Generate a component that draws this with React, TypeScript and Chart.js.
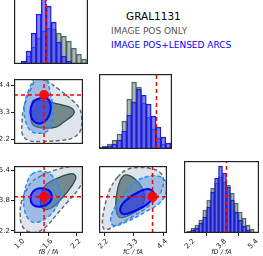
import React, { useEffect, useRef } from "react";
import { Chart, registerables } from "chart.js";

Chart.register(...registerables);

const FONT = "'DejaVu Sans', sans-serif";
Chart.defaults.font.family = FONT;

// ---------------- data ----------------
const TITLE = "GRAL1131";
const LEGEND_POS = "IMAGE POS ONLY";
const LEGEND_ARCS = "IMAGE POS+LENSED ARCS";
const AXIS_LABELS = ["fB / fA", "fC / fA", "fD / fA"];

const TRUTHS = [1.5, 4.0, 4.0];

const TICKS_1 = [1.0, 1.6, 2.2];
const TICKS_2 = [2.2, 3.3, 4.4];
const TICKS_3 = [2.2, 3.8, 5.4];

// 1D marginals (bin centres, heights)
const BINS_1 = [0.95, 1.05, 1.15, 1.25, 1.35, 1.45, 1.55, 1.65, 1.75, 1.85, 1.95, 2.05, 2.15, 2.25];
const HIST_1_POS = [0, 2, 8, 17, 26, 33, 36, 35, 31, 28, 23, 16, 10, 5];
const HIST_1_ARCS = [0, 3, 13, 31, 50, 70, 58, 42, 22, 8, 3, 1, 0, 0];

const BINS_2 = [2.03, 2.2, 2.37, 2.54, 2.71, 2.88, 3.05, 3.22, 3.39, 3.56, 3.73, 3.9, 4.07, 4.24, 4.41];
const HIST_2_POS = [2, 3, 5, 9, 15, 28, 50, 67, 62, 46, 32, 20, 11, 5, 2];
const HIST_2_ARCS = [1, 2, 3, 5, 9, 18, 34, 47, 60, 54, 45, 33, 22, 12, 6];

const BINS_3 = [2.1, 2.3, 2.5, 2.7, 2.9, 3.1, 3.3, 3.5, 3.7, 3.9, 4.1, 4.3, 4.5, 4.7, 4.9, 5.1, 5.3, 5.5];
const HIST_3_POS = [2, 5, 8, 13, 23, 33, 45, 50, 56, 51, 48, 40, 30, 21, 15, 8, 4, 1];
const HIST_3_ARCS = [1, 3, 5, 10, 16, 26, 41, 55, 67, 60, 46, 33, 21, 13, 7, 3, 1, 0];

type XY = [number, number];

// 2D credible contours (param1 vs param2)
const C12_POS_2S: XY[] = [[1.405, 4.672], [1.569, 4.553], [1.83, 4.203], [2.094, 3.798], [2.258, 3.448], [2.303, 3.039], [2.277, 2.574], [2.126, 2.28], [1.83, 2.165], [1.437, 2.13], [1.175, 2.165], [1.043, 2.399], [1.031, 2.864], [1.057, 3.389], [1.141, 3.913], [1.24, 4.322], [1.319, 4.612]];
const C12_POS_1S: XY[] = [[1.273, 3.798], [1.437, 3.763], [1.701, 3.679], [1.962, 3.563], [2.106, 3.448], [2.145, 3.294], [2.094, 3.154], [1.929, 2.924], [1.766, 2.714], [1.569, 2.665], [1.338, 2.714], [1.24, 2.864], [1.22, 3.273], [1.24, 3.623]];
const C12_ARC_2S: XY[] = [[1.569, 4.612], [1.634, 4.088], [1.687, 3.504], [1.667, 2.924], [1.569, 2.549], [1.372, 2.455], [1.208, 2.574], [1.11, 2.924], [1.077, 3.389], [1.11, 3.854], [1.189, 4.263], [1.273, 4.612], [1.332, 4.857], [1.51, 4.857]];
const C12_ARC_1S: XY[] = [[1.569, 3.854], [1.634, 3.679], [1.634, 3.329], [1.569, 3.039], [1.437, 2.864], [1.293, 2.924], [1.22, 3.154], [1.22, 3.504], [1.293, 3.763], [1.437, 3.878]];

// param1 vs param3
const C13_POS_2S: XY[] = [[1.437, 5.11], [1.766, 5.44], [2.094, 5.62], [2.3, 5.7], [2.36, 5.1], [2.224, 4.371], [1.996, 3.716], [1.766, 3.06], [1.569, 2.484], [1.372, 2.154], [1.175, 2.154], [1.031, 2.484], [0.992, 3.06], [1.017, 3.716], [1.11, 4.292], [1.24, 4.785]];
const C13_POS_1S: XY[] = [[1.569, 4.701], [1.83, 5.031], [2.094, 5.228], [2.179, 5.031], [2.08, 4.538], [1.864, 3.878], [1.634, 3.386], [1.47, 3.386], [1.425, 3.799], [1.47, 4.371]];
const C13_ARC_2S: XY[] = [[1.24, 5.193], [1.437, 5.356], [1.634, 5.193], [1.799, 4.701], [1.844, 4.124], [1.779, 3.553], [1.602, 2.977], [1.338, 2.647], [1.175, 2.814], [1.077, 3.386], [1.077, 4.124], [1.141, 4.785]];
const C13_ARC_1S: XY[] = [[1.437, 4.455], [1.602, 4.341], [1.667, 4.046], [1.622, 3.716], [1.47, 3.504], [1.307, 3.519], [1.22, 3.75], [1.228, 4.124], [1.307, 4.371]];

// param2 vs param3
const C23_POS_2S: XY[] = [[2.695, 5.031], [3.049, 5.44], [3.464, 5.553], [3.936, 5.489], [4.29, 5.277], [4.407, 4.863], [4.29, 4.208], [3.876, 3.553], [3.287, 2.977], [2.695, 2.533], [2.223, 2.272], [2.127, 2.647], [2.223, 3.553], [2.4, 4.371]];
const C23_POS_1S: XY[] = [[2.989, 5.159], [3.344, 4.947], [3.617, 4.455], [3.698, 3.878], [3.521, 3.386], [3.049, 2.977], [2.755, 2.927], [2.634, 3.386], [2.67, 4.208], [2.79, 4.863]];
const C23_ARC_2S: XY[] = [[3.698, 5.031], [4.173, 5.11], [4.493, 4.785], [4.503, 4.208], [4.23, 3.632], [3.759, 3.223], [3.049, 2.696], [2.553, 2.484], [2.436, 2.814], [2.634, 3.553], [3.049, 4.292], [3.344, 4.785]];
const C23_ARC_1S: XY[] = [[3.876, 4.405], [4.053, 4.124], [3.819, 3.632], [3.344, 3.257], [2.907, 3.09], [2.79, 3.356], [2.989, 3.799], [3.464, 4.243]];

// ---------------- styling / config ----------------
const RANGE_1: [number, number] = [0.86, 2.33];
const RANGE_2X: [number, number] = [2.0, 4.54];
const RANGE_2Y: [number, number] = [2.025, 4.645];
const RANGE_3X: [number, number] = [1.85, 5.65];
const RANGE_3Y: [number, number] = [2.09, 5.63];

const COL = {
  posFill2: "rgba(190,202,212,0.5)",
  posLine2: "#5d6d7e",
  posFill1: "rgba(47,79,79,0.6)",
  posLine1: "#2f4f4f",
  arcFill2: "rgba(80,140,220,0.45)",
  arcLine2: "#1e90ff",
  arcFill1: "rgba(40,40,230,0.55)",
  arcLine1: "#0000ff",
  histPos: "rgba(100,128,125,0.55)",
  histPosEdge: "rgba(60,80,78,0.9)",
  histArc: "rgba(50,50,255,0.6)",
  histArcEdge: "#1818c8",
  truth: "#ff0000",
  ink: "#222",
};

const framePlugin = {
  id: "frame",
  afterDatasetsDraw(chart: any) {
    const { ctx, chartArea: a } = chart;
    ctx.save();
    ctx.strokeStyle = COL.ink;
    ctx.lineWidth = 1.2;
    ctx.strokeRect(a.left + 0.6, a.top + 0.6, a.right - a.left - 1.2, a.bottom - a.top - 1.2);
    ctx.restore();
  },
};

const gridOpts = { display: true, drawOnChartArea: false, drawTicks: true, tickLength: 3, color: COL.ink, lineWidth: 1 };

function xScale(range: [number, number], ticks?: number[], title?: string): any {
  const s: any = { type: "linear", min: range[0], max: range[1], offset: false, display: !!ticks, grid: gridOpts, border: { display: false } };
  if (ticks) {
    s.afterBuildTicks = (sc: any) => { sc.ticks = ticks.map((v) => ({ value: v })); };
    s.ticks = { autoSkip: false, minRotation: 45, maxRotation: 45, padding: 1, labelOffset: 3, color: COL.ink, font: { size: 7, family: FONT }, callback: (v: any) => Number(v).toFixed(1) };
    s.afterFit = (sc: any) => { sc.height = 23; sc.paddingLeft = 0; sc.paddingRight = 0; };
    s.title = { display: true, text: title, color: COL.ink, padding: 0, font: { size: 6.5, family: FONT, style: "italic" } };
  }
  return s;
}

function yScale(range: [number, number], ticks?: number[]): any {
  const s: any = { type: "linear", min: range[0], max: range[1], display: !!ticks, grid: gridOpts, border: { display: false } };
  if (ticks) {
    s.afterBuildTicks = (sc: any) => { sc.ticks = ticks.map((v) => ({ value: v })); };
    s.ticks = { autoSkip: false, padding: 1, color: COL.ink, font: { size: 7, family: FONT }, callback: (v: any) => Number(v).toFixed(1) };
    s.afterFit = (sc: any) => { sc.width = 14; sc.paddingTop = 0; sc.paddingBottom = 0; };
  }
  return s;
}

function contourSets(pts: XY[], fill: string, line: string, width: number, dash: number[]) {
  const n = pts.length;
  const seq = [pts[n - 1], ...pts, pts[0], pts[1]].map(([x, y]) => ({ x, y }));
  const L = seq.length;
  const common = { data: seq, pointRadius: 0, tension: 0.4, capBezierPoints: false };
  return [
    { ...common, fill: "shape", backgroundColor: fill, borderWidth: 0, borderColor: "rgba(0,0,0,0)" },
    {
      ...common, fill: false, borderColor: line, borderWidth: width, borderDash: dash,
      segment: { borderColor: (c: any) => (c.p0DataIndex === 0 || c.p0DataIndex === L - 2 ? "rgba(0,0,0,0)" : line) },
    },
  ];
}

const baseOptions = {
  responsive: false,
  animation: false,
  devicePixelRatio: 1,
  events: [],
  plugins: { legend: { display: false }, tooltip: { enabled: false } },
};

function corrConfig(c: { p2: XY[]; p1: XY[]; a2: XY[]; a1: XY[] }, tx: number, ty: number, xr: [number, number], yr: [number, number], xs: any, ys: any, padLeft = 0) {
  const datasets: any[] = [
    ...contourSets(c.p2, COL.posFill2, COL.posLine2, 1.5, [4, 2.5]),
    ...contourSets(c.p1, COL.posFill1, COL.posLine1, 1.3, []),
    ...contourSets(c.a2, COL.arcFill2, COL.arcLine2, 1.5, [4, 2.5]),
    ...contourSets(c.a1, COL.arcFill1, COL.arcLine1, 2, []),
    { data: [{ x: tx, y: yr[0] }, { x: tx, y: yr[1] }], borderColor: COL.truth, borderWidth: 1.5, borderDash: [4, 3], pointRadius: 0, fill: false },
    { data: [{ x: xr[0], y: ty }, { x: xr[1], y: ty }], borderColor: COL.truth, borderWidth: 1.5, borderDash: [4, 3], pointRadius: 0, fill: false },
    { data: [{ x: tx, y: ty }], showLine: false, pointRadius: 5, pointBackgroundColor: "rgba(255,0,0,0.9)", pointBorderWidth: 0 },
  ];
  datasets.forEach((d, i) => (d.order = -i));
  return {
    type: "line",
    data: { datasets },
    options: { ...baseOptions, layout: { padding: { left: padLeft, right: 0, top: 0, bottom: 0 } }, scales: { x: xs, y: ys } },
    plugins: [framePlugin],
  };
}

function histConfig(bins: number[], pos: number[], arcs: number[], truth: number, xs: any, yMax: number, padLeft = 0, padRight = 0) {
  const barCommon = { barPercentage: 1, categoryPercentage: 1, grouped: false, borderWidth: 0.8 };
  return {
    type: "bar",
    data: {
      datasets: [
        { type: "line", data: [{ x: truth, y: 0 }, { x: truth, y: yMax }], borderColor: COL.truth, borderWidth: 1.5, borderDash: [4, 3], pointRadius: 0, fill: false, order: 0 },
        { ...barCommon, data: bins.map((x, i) => ({ x, y: arcs[i] })), backgroundColor: COL.histArc, borderColor: COL.histArcEdge, order: 1 },
        { ...barCommon, data: bins.map((x, i) => ({ x, y: pos[i] })), backgroundColor: COL.histPos, borderColor: COL.histPosEdge, order: 2 },
      ],
    },
    options: {
      ...baseOptions,
      layout: { padding: { left: padLeft, right: padRight, top: 0, bottom: 0 } },
      scales: { x: xs, y: { type: "linear", min: 0, max: yMax, display: false } },
    },
    plugins: [framePlugin],
  };
}

function Panel({ left, top, w, h, make }: { left: number; top: number; w: number; h: number; make: () => any }) {
  const ref = useRef<HTMLCanvasElement>(null);
  useEffect(() => {
    const chart = new Chart(ref.current as HTMLCanvasElement, make());
    return () => chart.destroy();
  }, []);
  return <canvas ref={ref} width={w} height={h} style={{ position: "absolute", left, top, width: w, height: h }} />;
}

export default function App() {
  return (
    <div style={{ position: "fixed", left: 0, top: 0, width: 263, height: 256, background: "#fff", overflow: "hidden", fontFamily: FONT }}>
      <Panel left={14} top={-10} w={74} h={74} make={() => histConfig(BINS_1, HIST_1_POS, HIST_1_ARCS, TRUTHS[0], xScale(RANGE_1), 74)} />
      <Panel left={0} top={74} w={88} h={75} make={() => corrConfig({ p2: C12_POS_2S, p1: C12_POS_1S, a2: C12_ARC_2S, a1: C12_ARC_1S }, TRUTHS[0], TRUTHS[1], RANGE_1, RANGE_2Y, xScale(RANGE_1), yScale(RANGE_2Y, TICKS_2))} />
      <Panel left={0} top={161} w={88} h={95} make={() => corrConfig({ p2: C13_POS_2S, p1: C13_POS_1S, a2: C13_ARC_2S, a1: C13_ARC_1S }, TRUTHS[0], TRUTHS[2], RANGE_1, RANGE_3Y, xScale(RANGE_1, TICKS_1, AXIS_LABELS[0]), yScale(RANGE_3Y, TICKS_3))} />
      <Panel left={99} top={74} w={73} h={75} make={() => histConfig(BINS_2, HIST_2_POS, HIST_2_ARCS, TRUTHS[1], xScale(RANGE_2X), 75)} />
      <Panel left={90} top={161} w={82} h={95} make={() => corrConfig({ p2: C23_POS_2S, p1: C23_POS_1S, a2: C23_ARC_2S, a1: C23_ARC_1S }, TRUTHS[1], TRUTHS[2], RANGE_2X, RANGE_3Y, xScale(RANGE_2X, TICKS_2, AXIS_LABELS[1]), yScale(RANGE_3Y), 9)} />
      <Panel left={176} top={161} w={87} h={95} make={() => histConfig(BINS_3, HIST_3_POS, HIST_3_ARCS, TRUTHS[2], xScale(RANGE_3X, TICKS_3, AXIS_LABELS[2]), 72, 8, 4)} />
      <div style={{ position: "absolute", left: 126, top: 10, fontSize: 10.5, lineHeight: "12px", color: "#000", whiteSpace: "nowrap" }}>{TITLE}</div>
      <div style={{ position: "absolute", left: 111, top: 26, fontSize: 9, lineHeight: "10px", color: "#555", whiteSpace: "nowrap" }}>{LEGEND_POS}</div>
      <div style={{ position: "absolute", left: 111, top: 40, fontSize: 9, lineHeight: "10px", color: "#0000ff", whiteSpace: "nowrap" }}>{LEGEND_ARCS}</div>
    </div>
  );
}
